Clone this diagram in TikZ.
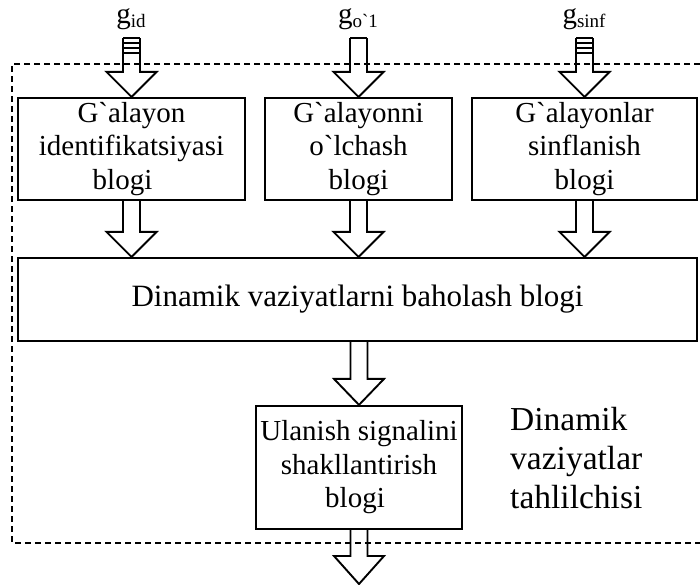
\documentclass[tikz,border=0pt]{standalone}
\usepackage{fontspec}
\setmainfont{Liberation Serif}
\usetikzlibrary{calc}
\newcommand\blockarrow[3]{% #1 start (top centre), #2 tip, #3 head length
  \draw[blk] ($#1+(-8.5,0)$) -- ($#2+(-8.5,-#3)$) -- ($#2+(-25,-#3)$) -- #2
    -- ($#2+(25,-#3)$) -- ($#2+(8.5,-#3)$) -- ($#1+(8.5,0)$);}
\begin{document}
\begin{tikzpicture}[x=1pt,y=-1pt,
  box/.style={draw,line width=2.2pt,inner sep=0pt,align=center,
    font=\fontsize{29}{33.5}\selectfont},
  blk/.style={line width=1.9pt,line join=miter},
  frame/.style={line width=1.3pt,dash pattern=on 6pt off 4pt},
  glabel/.style={anchor=base,inner sep=0pt,font=\fontsize{29}{30}\selectfont}]
\useasboundingbox (0,0) rectangle (700,584);

% dashed frame (right side lies outside the picture)
\draw[frame] (700,64) -- (12,64) -- (12,543) -- (700,543);

% blocks
\node[box,minimum width=227pt,minimum height=102pt] (b1) at (131.5,149)
  {G\textasciigrave alayon\\identifikatsiyasi\\blogi\hspace*{18pt}};
\node[box,minimum width=187pt,minimum height=102pt] (b2) at (358.5,149)
  {G\textasciigrave alayonni\\o\textasciigrave lchash\\blogi};
\node[box,minimum width=225pt,minimum height=102pt] (b3) at (584.5,149)
  {G\textasciigrave alayonlar\\sinflanish\\blogi};
\node[box,minimum width=679pt,minimum height=83pt,font=\fontsize{31}{33}\selectfont] (big) at (357.5,299.5)
  {Dinamik vaziyatlarni baholash blogi};
\node[box,minimum width=206pt,minimum height=123pt] (b4) at (359,467.5)
  {Ulanish signalini\\shakllantirish\hspace*{6pt}\\blogi\hspace*{8pt}};

\node[anchor=north west,align=left,inner sep=0pt,font=\fontsize{33.5}{39}\selectfont] (lbl)
  at (510,407) {Dinamik\\vaziyatlar\\tahlilchisi};

% input labels
\node[glabel] (gid) at (131,23) {g\raisebox{-4pt}{\fontsize{19}{20}\selectfont id}};
\node[glabel] (gol) at (358,23) {g\raisebox{-4pt}{\fontsize{19}{20}\selectfont o\textasciigrave 1}};
\node[glabel] (gsi) at (584,23) {g\raisebox{-4pt}{\fontsize{19}{20}\selectfont sinf}};

% arrow start / end points
\coordinate (s1) at (131.5,38);
\coordinate (s2) at (358.5,38);
\coordinate (s3) at (584.5,38);
\coordinate (t1) at (b1.south |- big.north);
\coordinate (t2) at (b2.south |- big.north);
\coordinate (t3) at (b3.south |- big.north);
\coordinate (t4) at (big.south -| b4.north);
\coordinate (out) at (b4.south |- 0,584);

% input arrows
\blockarrow{(s1)}{(b1.north)}{25}
\blockarrow{(s2)}{(b2.north)}{25}
\blockarrow{(s3)}{(b3.north)}{25}
\foreach \s in {s1,s3}{
  \foreach \d in {0,5,10,15}{
    \draw[blk,line width=2.4pt] ($(\s)+(-8.5,\d)$) -- ($(\s)+(8.5,\d)$);}}
\draw[blk] ($(s2)+(-8.5,0)$) -- ($(s2)+(8.5,0)$);

% inner arrows
\blockarrow{(b1.south)}{(t1)}{25}
\blockarrow{(b2.south)}{(t2)}{25}
\blockarrow{(b3.south)}{(t3)}{25}
\blockarrow{(t4)}{(b4.north)}{26}
\blockarrow{(b4.south)}{(out)}{28}
\end{tikzpicture}
\end{document}
